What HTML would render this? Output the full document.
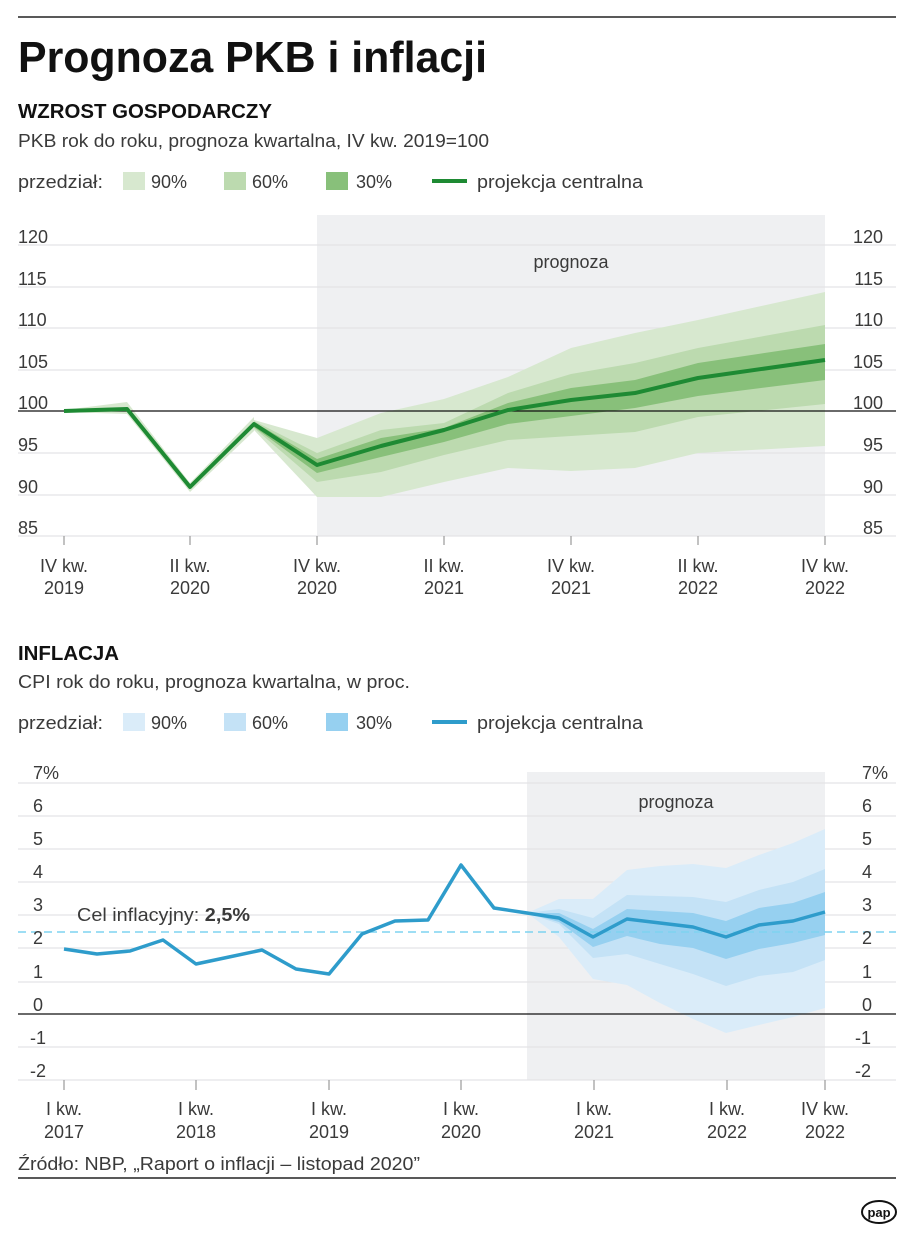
<!DOCTYPE html>
<html><head><meta charset="utf-8"><style>
html,body{margin:0;padding:0;background:#fff}
svg{display:block;font-family:"Liberation Sans",sans-serif}
</style></head><body>
<svg width="914" height="1250" viewBox="0 0 914 1250" xmlns="http://www.w3.org/2000/svg">
<rect width="914" height="1250" fill="#fff"/>
<line x1="18" y1="17" x2="896" y2="17" stroke="#222" stroke-width="1.5"/>
<text x="18" y="72" font-size="44" font-weight="bold" fill="#111" textLength="469" lengthAdjust="spacingAndGlyphs">Prognoza PKB i inflacji</text>
<text x="18" y="118" font-size="20" font-weight="bold" fill="#111" textLength="254" lengthAdjust="spacingAndGlyphs">WZROST GOSPODARCZY</text>
<text x="18" y="147" font-size="18" fill="#3a3a3a" textLength="471" lengthAdjust="spacingAndGlyphs">PKB rok do roku, prognoza kwartalna, IV kw. 2019=100</text>
<g font-size="18" fill="#3a3a3a">
<text x="18" y="188" textLength="85" lengthAdjust="spacingAndGlyphs">przedział:</text>
<rect x="123" y="172" width="22" height="18" fill="#d7e8cf"/><text x="151" y="188">90%</text>
<rect x="224" y="172" width="22" height="18" fill="#bcdaaf"/><text x="252" y="188">60%</text>
<rect x="326" y="172" width="22" height="18" fill="#88c07a"/><text x="356" y="188">30%</text>
<line x1="432" y1="181" x2="467" y2="181" stroke="#1e8a33" stroke-width="4"/>
<text x="477" y="188" textLength="166" lengthAdjust="spacingAndGlyphs">projekcja centralna</text>
</g>
<rect x="317" y="215" width="508" height="321" fill="#eff0f2"/>
<g stroke="#e3e4e6" stroke-width="1.3">
<line x1="18" y1="245" x2="896" y2="245"/><line x1="18" y1="287" x2="896" y2="287"/>
<line x1="18" y1="328" x2="896" y2="328"/><line x1="18" y1="370" x2="896" y2="370"/>
<line x1="18" y1="453" x2="896" y2="453"/><line x1="18" y1="495" x2="896" y2="495"/>
<line x1="18" y1="536" x2="896" y2="536"/>
</g>
<polygon fill="#d7e8cf" points="254,420 317,438 381,413 444,399 508,377 571,348 635,333 698,320 825,292 825,446 698,453 635,468 571,471 508,468 444,482 381,497 317,497 254,430"/>
<polygon fill="#bcdaaf" points="254,421 317,453 381,430 444,423 508,393 571,374 635,363 698,348 825,325 825,404 698,417 635,432 571,436 508,440 444,455 381,472 317,482 254,428"/>
<polygon fill="#88c07a" points="254,422 317,459 381,438 444,428 508,403 571,388 635,380 698,363 825,344 825,380 698,396 635,408 571,416 508,424 444,442 381,457 317,473 254,427"/>
<polygon fill="#d7e8cf" points="64,410 127,402 190,483 254,417 254,431 190,492 127,414 64,412"/>
<line x1="18" y1="411" x2="896" y2="411" stroke="#111" stroke-width="1.3"/>
<polyline fill="none" stroke="#1e8a33" stroke-width="4" stroke-linejoin="round" points="64,411 127,409 190,487 254,424 317,465 381,446 444,430 508,410 571,400 635,393 698,378 825,360"/>
<g stroke="#999" stroke-width="1.2">
<line x1="64" y1="536" x2="64" y2="545"/><line x1="190" y1="536" x2="190" y2="545"/><line x1="317" y1="536" x2="317" y2="545"/><line x1="444" y1="536" x2="444" y2="545"/><line x1="571" y1="536" x2="571" y2="545"/><line x1="698" y1="536" x2="698" y2="545"/><line x1="825" y1="536" x2="825" y2="545"/>
</g>
<text x="571" y="268" font-size="18" fill="#3a3a3a" text-anchor="middle">prognoza</text>
<g font-size="18" fill="#3a3a3a">
<text x="18" y="243">120</text><text x="18" y="285">115</text><text x="18" y="326">110</text><text x="18" y="368">105</text><text x="18" y="409">100</text><text x="18" y="451">95</text><text x="18" y="493">90</text><text x="18" y="534">85</text>
</g>
<g font-size="18" fill="#3a3a3a" text-anchor="end">
<text x="883" y="243">120</text><text x="883" y="285">115</text><text x="883" y="326">110</text><text x="883" y="368">105</text><text x="883" y="409">100</text><text x="883" y="451">95</text><text x="883" y="493">90</text><text x="883" y="534">85</text>
</g>
<g font-size="18" fill="#3a3a3a" text-anchor="middle">
<text x="64" y="572">IV kw.</text><text x="64" y="594">2019</text>
<text x="190" y="572">II kw.</text><text x="190" y="594">2020</text>
<text x="317" y="572">IV kw.</text><text x="317" y="594">2020</text>
<text x="444" y="572">II kw.</text><text x="444" y="594">2021</text>
<text x="571" y="572">IV kw.</text><text x="571" y="594">2021</text>
<text x="698" y="572">II kw.</text><text x="698" y="594">2022</text>
<text x="825" y="572">IV kw.</text><text x="825" y="594">2022</text>
</g>
<text x="18" y="660" font-size="20" font-weight="bold" fill="#111" textLength="101" lengthAdjust="spacingAndGlyphs">INFLACJA</text>
<text x="18" y="688" font-size="18" fill="#3a3a3a" textLength="392" lengthAdjust="spacingAndGlyphs">CPI rok do roku, prognoza kwartalna, w proc.</text>
<g font-size="18" fill="#3a3a3a">
<text x="18" y="729" textLength="85" lengthAdjust="spacingAndGlyphs">przedział:</text>
<rect x="123" y="713" width="22" height="18" fill="#daecf9"/><text x="151" y="729">90%</text>
<rect x="224" y="713" width="22" height="18" fill="#c4e2f6"/><text x="252" y="729">60%</text>
<rect x="326" y="713" width="22" height="18" fill="#96d0f0"/><text x="356" y="729">30%</text>
<line x1="432" y1="722" x2="467" y2="722" stroke="#2e9ccb" stroke-width="4"/>
<text x="477" y="729" textLength="166" lengthAdjust="spacingAndGlyphs">projekcja centralna</text>
</g>
<rect x="527" y="772" width="298" height="308" fill="#eff0f2"/>
<g stroke="#e3e4e6" stroke-width="1.3">
<line x1="18" y1="783" x2="896" y2="783"/><line x1="18" y1="816" x2="896" y2="816"/>
<line x1="18" y1="849" x2="896" y2="849"/><line x1="18" y1="882" x2="896" y2="882"/>
<line x1="18" y1="915" x2="896" y2="915"/><line x1="18" y1="948" x2="896" y2="948"/>
<line x1="18" y1="982" x2="896" y2="982"/><line x1="18" y1="1047" x2="896" y2="1047"/>
<line x1="18" y1="1080" x2="896" y2="1080"/>
</g>
<polygon fill="#daecf9" points="527,913 559,899 593,899 627,870 660,866 693,864 726,868 759,855 793,843 825,829 825,1008 793,1017 759,1025 726,1033 693,1019 660,1003 627,985 593,979 559,937"/>
<polygon fill="#c4e2f6" points="527,913 559,909 593,918 627,895 660,896 693,897 726,902 759,890 793,882 825,869 825,960 793,972 759,976 726,986 693,974 660,964 627,954 593,958 559,924"/>
<polygon fill="#96d0f0" points="527,913 559,913 593,929 627,909 660,911 693,913 726,921 759,908 793,903 825,892 825,935 793,943 759,949 726,959 693,948 660,944 627,936 593,947 559,922"/>
<line x1="18" y1="932" x2="896" y2="932" stroke="#7fd3f0" stroke-width="1.5" stroke-dasharray="8,5"/>
<line x1="18" y1="1014" x2="896" y2="1014" stroke="#111" stroke-width="1.3"/>
<polyline fill="none" stroke="#2e9ccb" stroke-width="3.5" stroke-linejoin="round" points="64,949 97,954 130,951 163,940 196,964 229,957 262,950 296,969 329,974 362,934 395,921 428,920 461,865 494,908 527,913 559,918 593,937 627,919 660,923 693,927 726,937 759,925 793,921 825,912"/>
<text x="77" y="921" font-size="18" fill="#3a3a3a" textLength="173" lengthAdjust="spacingAndGlyphs">Cel inflacyjny: <tspan font-weight="bold">2,5%</tspan></text>
<g stroke="#999" stroke-width="1.2">
<line x1="64" y1="1080" x2="64" y2="1090"/><line x1="196" y1="1080" x2="196" y2="1090"/><line x1="329" y1="1080" x2="329" y2="1090"/><line x1="461" y1="1080" x2="461" y2="1090"/><line x1="594" y1="1080" x2="594" y2="1090"/><line x1="727" y1="1080" x2="727" y2="1090"/><line x1="825" y1="1080" x2="825" y2="1090"/>
</g>
<text x="676" y="808" font-size="18" fill="#3a3a3a" text-anchor="middle">prognoza</text>
<g font-size="18" fill="#3a3a3a">
<text x="33" y="779">7%</text><text x="33" y="812">6</text><text x="33" y="845">5</text><text x="33" y="878">4</text><text x="33" y="911">3</text><text x="33" y="944">2</text><text x="33" y="978">1</text><text x="33" y="1011">0</text><text x="30" y="1044">-1</text><text x="30" y="1077">-2</text>
</g>
<g font-size="18" fill="#3a3a3a">
<text x="862" y="779">7%</text><text x="862" y="812">6</text><text x="862" y="845">5</text><text x="862" y="878">4</text><text x="862" y="911">3</text><text x="862" y="944">2</text><text x="862" y="978">1</text><text x="862" y="1011">0</text><text x="855" y="1044">-1</text><text x="855" y="1077">-2</text>
</g>
<g font-size="18" fill="#3a3a3a" text-anchor="middle">
<text x="64" y="1115">I kw.</text><text x="64" y="1138">2017</text>
<text x="196" y="1115">I kw.</text><text x="196" y="1138">2018</text>
<text x="329" y="1115">I kw.</text><text x="329" y="1138">2019</text>
<text x="461" y="1115">I kw.</text><text x="461" y="1138">2020</text>
<text x="594" y="1115">I kw.</text><text x="594" y="1138">2021</text>
<text x="727" y="1115">I kw.</text><text x="727" y="1138">2022</text>
<text x="825" y="1115">IV kw.</text><text x="825" y="1138">2022</text>
</g>
<text x="18" y="1170" font-size="18" fill="#3a3a3a" textLength="402" lengthAdjust="spacingAndGlyphs">Źródło: NBP, „Raport o inflacji – listopad 2020”</text>
<line x1="18" y1="1178" x2="896" y2="1178" stroke="#222" stroke-width="1.5"/>
<ellipse cx="879" cy="1212" rx="17" ry="11" fill="#fff" stroke="#111" stroke-width="2"/>
<text x="879" y="1217" font-size="13" font-weight="bold" fill="#111" text-anchor="middle">pap</text>
</svg>
</body></html>
